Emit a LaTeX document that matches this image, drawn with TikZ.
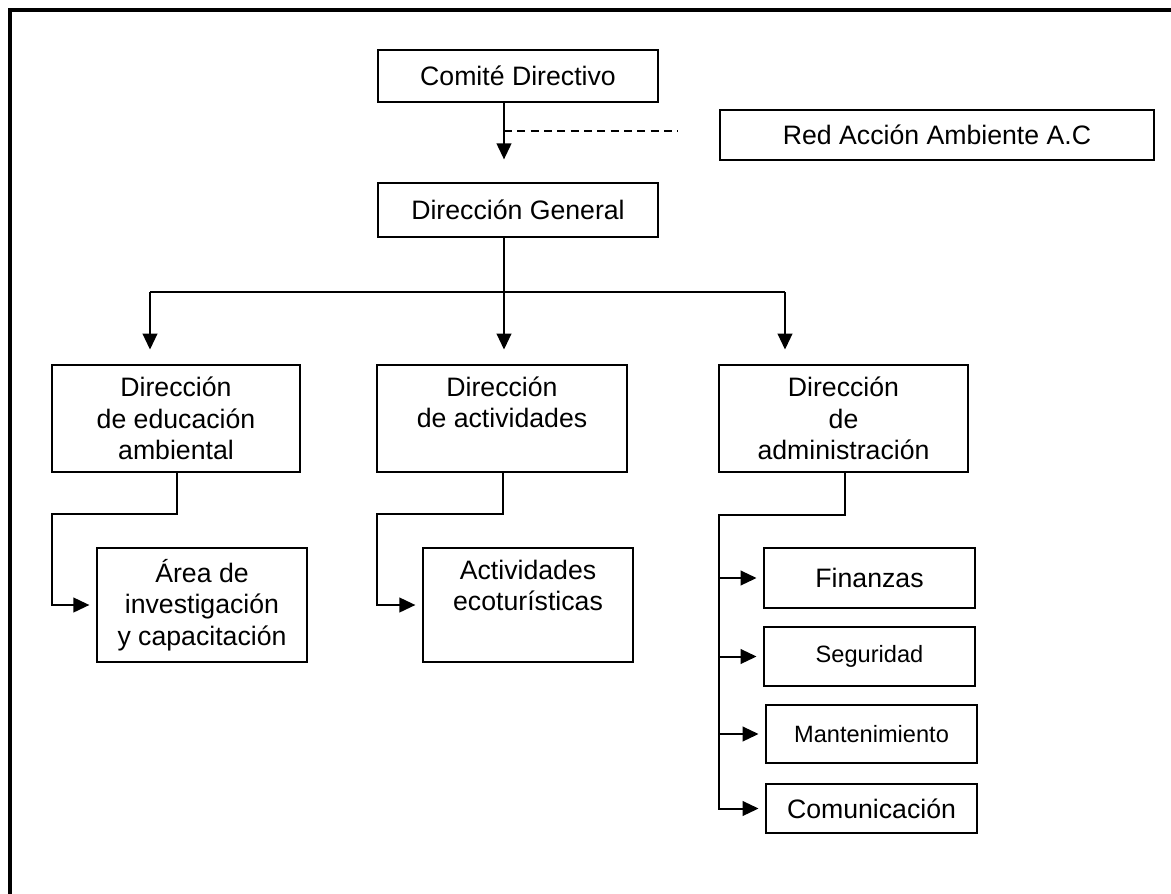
\documentclass[tikz,border=0pt]{standalone}
\usepackage{fontspec}
\setmainfont{Liberation Sans}
\usetikzlibrary{arrows.meta}

\begin{document}
\begin{tikzpicture}[x=0.75pt,y=-0.75pt,>={Triangle[length=12pt,width=11pt]},
  box/.style={draw,line width=1.4pt,align=center,inner sep=4pt,font=\fontsize{20}{23.5}\selectfont},
  small/.style={font=\fontsize{17.7}{21}\selectfont},
  toptext/.style={anchor=north,align=center,yshift=-6pt,font=\fontsize{20}{23.5}\selectfont},
  lnk/.style={line width=1.5pt},
  arr/.style={lnk,->,shorten >=#1},
  arr/.default=5pt]
\useasboundingbox (0,0) rectangle (1171,893);
\draw[line width=3pt] (10,900) -- (10,10) -- (1180,10);
% top of the chart
\node[box,minimum width=210pt,minimum height=39pt] (com) at (518,76) {Comité Directivo};
\node[box,minimum width=326pt,minimum height=38pt] (red) at (937,135) {Red Acción Ambiente A.C};
\node[box,minimum width=210pt,minimum height=40.5pt] (dg) at (518,210) {Dirección General};
% the three directions
\node[box,minimum width=186pt,minimum height=80pt] (dea) at (176,418.5) {Dirección\\de educación\\ambiental};
\node[box,minimum width=187pt,minimum height=80pt,label={[toptext]north:{Dirección\\de actividades}}] (dac) at (502,418.5) {};
\node[box,minimum width=187pt,minimum height=80pt] (dad) at (843.5,418.5) {Dirección\\de\\administración};
% areas
\node[box,minimum width=157.5pt,minimum height=85.5pt] (inv) at (202,605) {Área de\\investigación\\y capacitación};
\node[box,minimum width=157.5pt,minimum height=85.5pt,label={[toptext]north:{Actividades\\ecoturísticas}}] (eco) at (528,605) {};
\node[box,minimum width=158pt,minimum height=45pt] (fin) at (869.5,578) {Finanzas};
\node[box,small,minimum width=158pt,minimum height=44pt] (seg) at (869.5,656.5) {Seguridad};
\node[box,small,minimum width=158pt,minimum height=43.5pt] (man) at (871.5,734) {Mantenimiento};
\node[box,minimum width=158pt,minimum height=37pt] (cmu) at (871.5,808.5) {Comunicación};
% connectors
\coordinate (hub) at (504,292);
\coordinate (dsh) at (504,131);
\coordinate (busL) at (150,292);
\coordinate (busR) at (785,292);
\draw[arr=17pt] (com.south -| hub) -- (dg.north -| hub);
\draw[line width=1.1pt,dash pattern=on 6pt off 4pt,shorten >=31pt] (dsh) -- (dsh -| red.west);
\draw[lnk] (dg.south -| hub) -- (hub);
\draw[lnk] (busL) -- (busR);
\foreach \c in {busL,hub,busR}
  \draw[arr=11pt] (\c) -- (\c |- dea.north);
\coordinate (eaK) at (177,514);
\coordinate (eaL) at (52,514);
\draw[arr] (dea.south -| eaK) -- (eaK) -- (eaL) -- (eaL |- inv.west) -- (inv.west);
\coordinate (acK) at (503,514);
\coordinate (acL) at (377,514);
\draw[arr] (dac.south -| acK) -- (acK) -- (acL) -- (acL |- eco.west) -- (eco.west);
\coordinate (adK) at (845,515);
\coordinate (adL) at (719,515);
\draw[arr] (dad.south -| adK) -- (adK) -- (adL) -- (adL |- cmu.west) -- (cmu.west);
\foreach \b in {fin,seg,man}
  \draw[arr] (adL |- \b.west) -- (\b.west);
\end{tikzpicture}
\end{document}
